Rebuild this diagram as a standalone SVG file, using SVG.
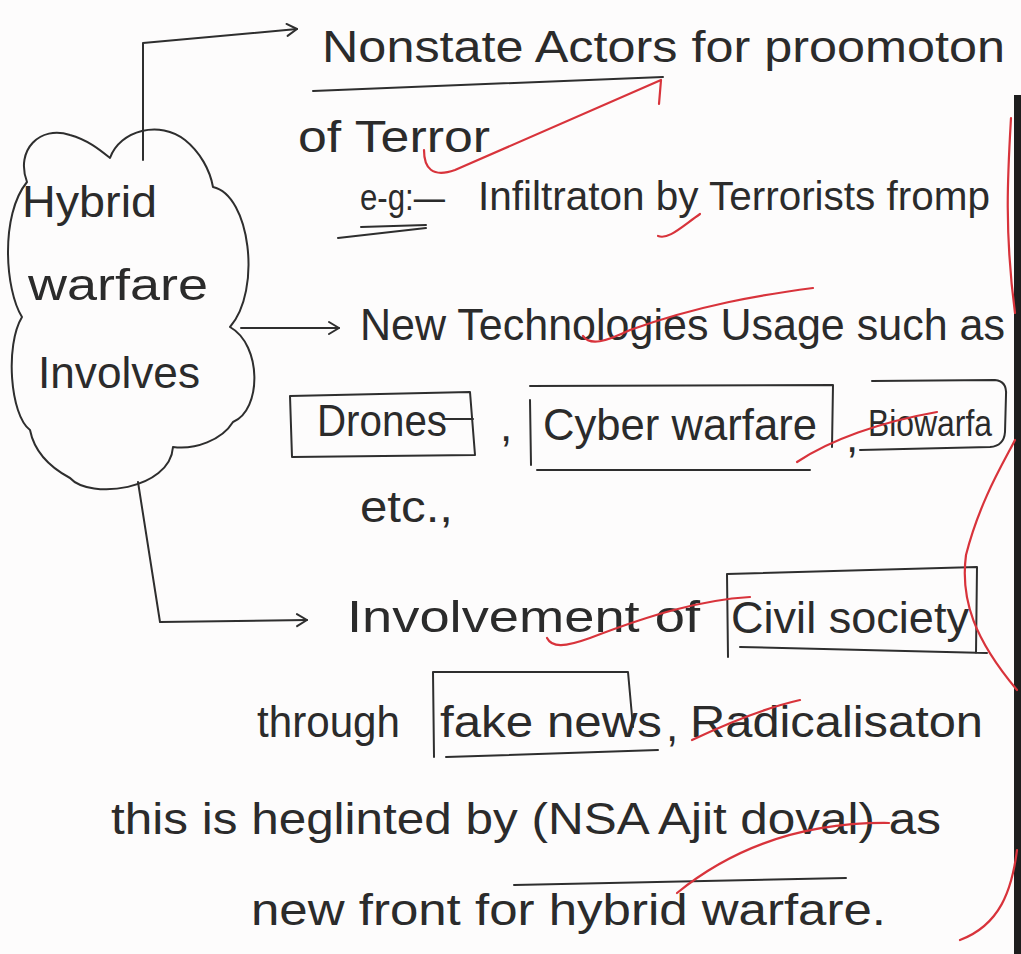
<svg xmlns="http://www.w3.org/2000/svg" width="1021" height="954" viewBox="0 0 1021 954">
  <defs>
    <style>
      .hw { font-family: "Liberation Sans", Arial, sans-serif; font-size: 44px; fill: #2b2b2b; }
      .md { font-size: 40px; }
      .sm { font-size: 36px; }
      .ink { fill: none; stroke: #2e2e2e; stroke-width: 2; stroke-linecap: round; stroke-linejoin: round; }
      .red { fill: none; stroke: #d8333b; stroke-width: 2.2; stroke-linecap: round; stroke-linejoin: round; }
    </style>
    <marker id="arrow" markerWidth="16" markerHeight="16" refX="13" refY="8" orient="auto" markerUnits="userSpaceOnUse">
      <path d="M3,2 L13,8 L3,14" fill="none" stroke="#2e2e2e" stroke-width="2" stroke-linecap="round" stroke-linejoin="round"/>
    </marker>
  </defs>

  <!-- paper -->
  <rect x="0" y="0" width="1021" height="954" fill="#fdfcfc"/>

  <!-- connectors from the cloud -->
  <g id="connectors">
    <path class="ink" d="M143,160 L143,43 L297,29" marker-end="url(#arrow)"/>
    <path class="ink" d="M241,328 L339,328" marker-end="url(#arrow)"/>
    <path class="ink" d="M138,482 L160,622 L307,620" marker-end="url(#arrow)"/>
  </g>

  <!-- central cloud -->
  <g id="node-hybrid">
    <path class="ink" d="M27,182 C15,150 40,125 70,135 C88,140 100,150 110,158 C120,130 160,120 185,140 C200,152 210,170 213,187 C250,195 262,290 230,327 C262,345 262,410 233,422 C222,440 195,450 173,447 C170,490 90,500 70,478 C55,470 35,455 30,430 C10,415 5,345 22,317 C5,290 0,215 27,182 Z"/>
    <text class="hw" x="22" y="217" textLength="135" lengthAdjust="spacingAndGlyphs">Hybrid</text>
    <text class="hw" x="28" y="300" textLength="180" lengthAdjust="spacingAndGlyphs">warfare</text>
    <text class="hw" x="38" y="388" textLength="162" lengthAdjust="spacingAndGlyphs">Involves</text>
  </g>

  <!-- branch 1 -->
  <g id="node-nonstate">
    <text class="hw" x="322" y="62" textLength="683" lengthAdjust="spacingAndGlyphs">Nonstate Actors for proomoton</text>
    <path class="ink" d="M313,91 L663,77"/>
    <text class="hw" x="298" y="152" textLength="192" lengthAdjust="spacingAndGlyphs">of Terror</text>
    <text class="hw sm" x="360" y="210" textLength="85" lengthAdjust="spacingAndGlyphs">e-g:—</text>
    <path class="ink" d="M361,227 L426,225 M338,238 L426,228"/>
    <text class="hw md" x="478" y="210" textLength="512" lengthAdjust="spacingAndGlyphs">Infiltraton by Terrorists fromp</text>
  </g>

  <!-- branch 2 -->
  <g id="node-tech">
    <text class="hw" x="360" y="340" textLength="645" lengthAdjust="spacingAndGlyphs">New Technologies Usage such as</text>
    <path class="ink" d="M290,396 L470,392 L475,455 L292,457 Z"/>
    <path class="ink" d="M443,419 L473,419"/>
    <text class="hw" x="317" y="436" textLength="130" lengthAdjust="spacingAndGlyphs">Drones</text>
    <text class="hw" x="500" y="441">,</text>
    <path class="ink" d="M530,400 L531,465 M530,386 L833,385 L832,447 M537,470 L810,470"/>
    <text class="hw" x="543" y="440" textLength="274" lengthAdjust="spacingAndGlyphs">Cyber warfare</text>
    <text class="hw" x="846" y="452">,</text>
    <path class="ink" d="M872,381 L995,380 Q1007,381 1006,395 L1005,432 Q1004,446 990,447 L860,450"/>
    <text class="hw sm" x="868" y="436" textLength="124" lengthAdjust="spacingAndGlyphs">Biowarfa</text>
    <text class="hw" x="360" y="522" textLength="93" lengthAdjust="spacingAndGlyphs">etc.,</text>
  </g>

  <!-- branch 3 -->
  <g id="node-civil">
    <text class="hw" x="347" y="632" textLength="353" lengthAdjust="spacingAndGlyphs">Involvement of</text>
    <path class="ink" d="M727,574 L977,567 L976,653 M740,647 L987,653 M727,574 L728,657"/>
    <text class="hw" x="731" y="633" textLength="238" lengthAdjust="spacingAndGlyphs">Civil society</text>
    <text class="hw" x="257" y="737" textLength="143" lengthAdjust="spacingAndGlyphs">through</text>
    <path class="ink" d="M433,672 L628,672 L633,727 M433,672 L434,757 M446,757 L658,750"/>
    <text class="hw" x="440" y="737" textLength="222" lengthAdjust="spacingAndGlyphs">fake news</text>
    <text class="hw" x="666" y="741">,</text>
    <text class="hw" x="690" y="737" textLength="293" lengthAdjust="spacingAndGlyphs">Radicalisaton</text>
  </g>

  <!-- closing remark -->
  <g id="node-remark">
    <text class="hw" x="111" y="834" textLength="830" lengthAdjust="spacingAndGlyphs">this is heglinted by (NSA Ajit doval) as</text>
    <path class="ink" d="M514,885 L846,878"/>
    <text class="hw" x="251" y="925" textLength="635" lengthAdjust="spacingAndGlyphs">new front for hybrid warfare.</text>
  </g>

  <!-- margin edge -->
  <rect id="margin-edge" x="1014" y="95" width="7" height="859" fill="#1e1e1e"/>

  <!-- red pen marks -->
  <g id="red-marks">
    <path class="red" d="M424,150 C424,168 432,178 455,170 L661,80 L659,104"/>
    <path class="red" d="M658,236 C668,240 680,228 700,214"/>
    <path class="red" d="M583,336 C590,346 605,342 630,330 C700,305 760,295 813,288"/>
    <path class="red" d="M797,462 C830,440 880,422 937,412"/>
    <path class="red" d="M547,638 C552,648 565,647 590,638 C650,615 700,600 750,597"/>
    <path class="red" d="M692,740 C730,722 765,708 800,700"/>
    <path class="red" d="M677,893 C730,850 800,822 889,823"/>
    <path class="red" d="M1011,118 C1008,170 1004,230 1015,313"/>
    <path class="red" d="M1015,440 C1005,460 980,500 966,555 C960,600 975,640 1017,690"/>
    <path class="red" d="M1017,850 C1012,890 1000,925 960,940"/>
  </g>
</svg>
